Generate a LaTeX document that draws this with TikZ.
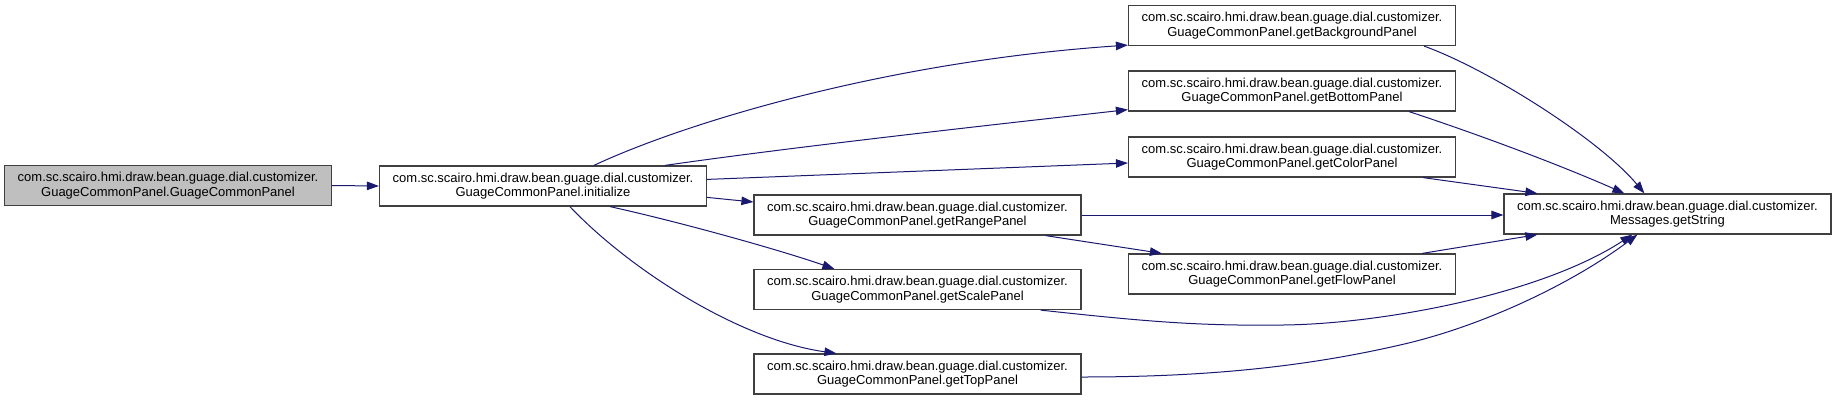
\documentclass[tikz,border=0pt]{standalone}
\usepackage{fontspec}
\setmainfont{Liberation Sans}
\usetikzlibrary{arrows.meta,calc}
\definecolor{edgecol}{HTML}{191970}
\definecolor{boxline}{HTML}{404040}
\definecolor{grayfill}{HTML}{BFBFBF}
\begin{document}
\begin{tikzpicture}[x=1pt,y=-1pt,
  fn/.style={draw=boxline,line width=1.2pt,fill=white,minimum width=327pt,minimum height=40pt,inner sep=0pt,align=center,font=\fontsize{13pt}{14.5pt}\selectfont},
  cur/.style={fn,fill=grayfill},
  call/.style={draw=edgecol,line width=1pt,-{Triangle[length=12pt,width=8.5pt]}}]
\useasboundingbox (0,0) rectangle (1836,400);

\node[cur] (A) at (168,185.5) {com.sc.scairo.hmi.draw.bean.guage.dial.customizer.\\GuageCommonPanel.GuageCommonPanel};
\node[fn] (B) at (543,186) {com.sc.scairo.hmi.draw.bean.guage.dial.customizer.\\GuageCommonPanel.initialize};
\node[fn] (bg) at (1292,25.5) {com.sc.scairo.hmi.draw.bean.guage.dial.customizer.\\GuageCommonPanel.getBackgroundPanel};
\node[fn] (bot) at (1292,91) {com.sc.scairo.hmi.draw.bean.guage.dial.customizer.\\GuageCommonPanel.getBottomPanel};
\node[fn] (col) at (1292,157) {com.sc.scairo.hmi.draw.bean.guage.dial.customizer.\\GuageCommonPanel.getColorPanel};
\node[fn] (rng) at (917.5,215) {com.sc.scairo.hmi.draw.bean.guage.dial.customizer.\\GuageCommonPanel.getRangePanel};
\node[fn] (flow) at (1292,274) {com.sc.scairo.hmi.draw.bean.guage.dial.customizer.\\GuageCommonPanel.getFlowPanel};
\node[fn] (scl) at (917.5,289.5) {com.sc.scairo.hmi.draw.bean.guage.dial.customizer.\\GuageCommonPanel.getScalePanel};
\node[fn] (top) at (917.5,374) {com.sc.scairo.hmi.draw.bean.guage.dial.customizer.\\GuageCommonPanel.getTopPanel};
\node[fn] (gs) at (1667.5,214) {com.sc.scairo.hmi.draw.bean.guage.dial.customizer.\\Messages.getString};

% from the constructor
\draw[call] (A.east) -- (B.west);

% from initialize
\draw[call] ($(B.north west)+(215,0)$) .. controls (680,125) and (880,62) .. ($(bg.south west)+(0,-1)$);
\draw[call] ($(B.north west)+(286,0)$) .. controls (800,146) and (1000,124) .. ($(bot.south west)+(0,-2)$);
\draw[call] ($(B.north east)+(0,14)$) -- ($(col.west)+(0,6)$);
\draw[call] ($(B.north east)+(0,32)$) -- ($(rng.west)+(0,-13)$);
\draw[call] ($(B.south west)+(231,0)$) .. controls (680,222) and (780,250) .. ($(scl.north west)+(81,0)$);
\draw[call] ($(B.south west)+(191,0)$) .. controls (630,270) and (740,340) .. ($(top.north west)+(83,0)$);

% into getString
\draw[call] ($(bg.south east)+(-32,0)$) .. controls (1490,70) and (1600,140) .. ($(gs.north west)+(141,0)$);
\draw[call] ($(bot.south east)+(-47,0)$) .. controls (1480,135) and (1560,165) .. ($(gs.north west)+(121,0)$);
\draw[call] ($(col.south east)+(-33,0)$) -- ($(gs.north west)+(34,0)$);
\draw[call] (rng.east) -- (rng.east -| gs.west);
\draw[call] ($(rng.south east)+(-36,0)$) -- ($(flow.north west)+(34,0)$);
\draw[call] ($(flow.north east)+(-34,0)$) -- ($(gs.south west)+(34,0)$);
\draw[call] ($(scl.south east)+(-41,0)$) .. controls (1150,322) and (1200,326) .. (1283,325)
  .. controls (1380,324) and (1540,295) .. ($(gs.south west)+(129,0)$);
\draw[call] ($(top.east)+(0,3)$) .. controls (1200,377) and (1300,368) .. (1400,345)
  .. controls (1480,327) and (1570,285) .. ($(gs.south west)+(134,0)$);
\end{tikzpicture}
\end{document}
